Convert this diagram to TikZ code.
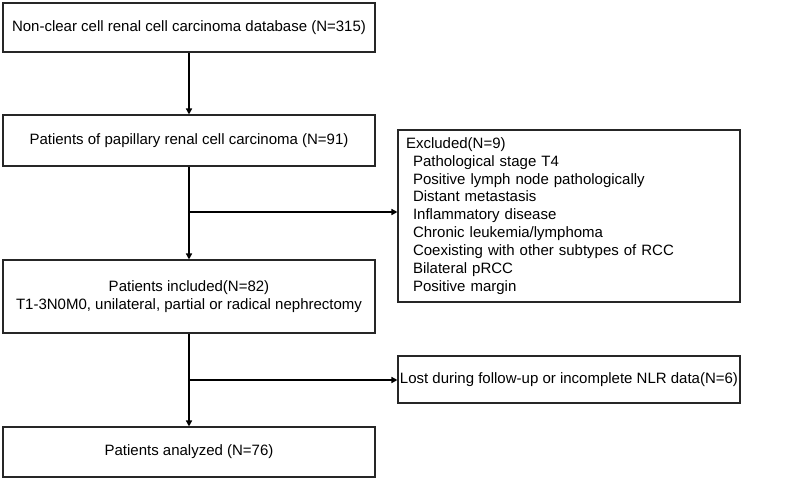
\documentclass[tikz,border=0pt]{standalone}
\usepackage{fontspec}
\setmainfont{Liberation Sans}
\usetikzlibrary{arrows.meta}
\begin{document}
\begin{tikzpicture}[x=1pt,y=-1pt,
  box/.style={draw=black!85,line width=1.1pt,rectangle,inner sep=0pt,
    font=\fontsize{15}{18}\selectfont,align=center},
  flow/.style={line width=2.2pt,-{Triangle[length=6pt,width=6pt]}}]
\useasboundingbox (0,0) rectangle (810,480);
\node[box,minimum width=372pt,minimum height=49pt] (b1) at (189,27.5)
  {Non-clear cell renal cell carcinoma database (N=315)};
\node[box,minimum width=372pt,minimum height=51pt] (b2) at (189,140.5)
  {Patients of papillary renal cell carcinoma (N=91)};
\node[box,minimum width=372pt,minimum height=73pt] (b3) at (189,296.5)
  {Patients included(N=82)\\T1-3N0M0, unilateral, partial or radical nephrectomy};
\node[box,minimum width=372pt,minimum height=50pt] (b4) at (189,452)
  {Patients analyzed (N=76)};
\node[box,minimum width=342pt,minimum height=172pt,text width=326pt,
  inner xsep=8pt,align=left,font=\fontsize{15}{17.9}\selectfont] (ex) at (569,216)
  {Excluded(N=9)\\
   \hspace*{7pt}Pathological stage T4\\
   \hspace*{7pt}Positive lymph node pathologically\\
   \hspace*{7pt}Distant metastasis\\
   \hspace*{7pt}Inflammatory disease\\
   \hspace*{7pt}Chronic leukemia/lymphoma\\
   \hspace*{7pt}Coexisting with other subtypes of RCC\\
   \hspace*{7pt}Bilateral pRCC\\
   \hspace*{7pt}Positive margin};
\node[box,minimum width=342pt,minimum height=47pt] (lost) at (569,379.5)
  {Lost during follow-up or incomplete NLR data(N=6)};
\coordinate (j1) at (189,212);
\coordinate (j2) at (189,380);
\draw[flow] (b1) -- (b2);
\draw[flow] (b2) -- (b3);
\draw[flow] (b3) -- (b4);
\draw[flow] (j1) -- (ex.west |- j1);
\draw[flow] (j2) -- (lost.west |- j2);
\end{tikzpicture}
\end{document}
